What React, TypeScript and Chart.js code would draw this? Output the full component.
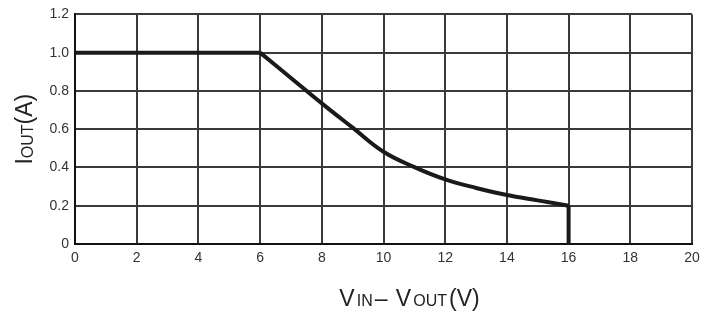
import React, { useEffect, useRef } from "react";
import { Chart, registerables } from "chart.js";

Chart.register(...registerables);

// Data
const flatX = [0, 6];
const flatY = [1.0, 1.0];
const curveX = [6, 7, 8, 9, 10, 11, 12, 13, 14, 15, 16];
const curveY = [1.0, 0.868, 0.735, 0.608, 0.482, 0.402, 0.338, 0.293, 0.256, 0.228, 0.2];
const dropX = [16, 16];
const dropY = [0.2, 0];

const xTicks = [0, 2, 4, 6, 8, 10, 12, 14, 16, 18, 20];
const yTicks = [0, 0.2, 0.4, 0.6, 0.8, 1.0, 1.2];
const yTickLabels = ["0", "0.2", "0.4", "0.6", "0.8", "1.0", "1.2"];

const FONT = '"Liberation Sans", Arial, sans-serif';

type Piece = { t: string; sub?: boolean };
const yTitle: Piece[] = [{ t: "I" }, { t: "OUT", sub: true }, { t: "(A)" }];
const xTitle: Piece[] = [
  { t: "V" },
  { t: "IN", sub: true },
  { t: "– " },
  { t: "V" },
  { t: "OUT", sub: true },
  { t: "(V)" },
];

const titlePlugin = {
  id: "subTitles",
  afterDraw(chart: any) {
    const ctx: CanvasRenderingContext2D = chart.ctx;
    const area = chart.chartArea;
    const mainF = `23px ${FONT}`;
    const subF = `16px ${FONT}`;
    const measure = (p: Piece[]) =>
      p.reduce((s, q) => {
        ctx.font = q.sub ? subF : mainF;
        return s + ctx.measureText(q.t).width;
      }, 0);
    ctx.save();
    ctx.fillStyle = "#222";
    ctx.textBaseline = "alphabetic";
    ctx.textAlign = "left";
    // x title
    const gap = 2;
    const wx = measure(xTitle) + gap * (xTitle.length - 1);
    let x = (area.left + area.right) / 2 + 26 - wx / 2;
    const by = area.bottom + 62;
    for (const q of xTitle) {
      ctx.font = q.sub ? subF : mainF;
      ctx.fillText(q.t, x, by);
      x += ctx.measureText(q.t).width + gap;
    }
    // y title (rotated)
    const wy = measure(yTitle);
    ctx.translate(area.left - 43, (area.top + area.bottom) / 2);
    ctx.rotate(-Math.PI / 2);
    let p = -wy / 2;
    for (const q of yTitle) {
      ctx.font = q.sub ? subF : mainF;
      ctx.fillText(q.t, p, q.sub ? 1 : 0);
      p += ctx.measureText(q.t).width;
    }
    ctx.restore();
  },
};

const lineStyle = {
  borderColor: "#1a1a1a",
  borderWidth: 4,
  pointRadius: 0,
  fill: false,
};

Chart.defaults.font.family = FONT;
Chart.defaults.font.size = 14;

export default function App() {
  const ref = useRef<HTMLCanvasElement | null>(null);
  useEffect(() => {
    document.body.style.margin = "0";
    const canvas = ref.current;
    if (!canvas) return;
    const chart = new Chart(canvas, {
      type: "line",
      data: {
        datasets: [
          { ...lineStyle, tension: 0, data: flatX.map((x, i) => ({ x, y: flatY[i] })) },
          {
            ...lineStyle,
            tension: 0.4,
            data: curveX.map((x, i) => ({ x, y: curveY[i] })),
          },
          { ...lineStyle, tension: 0, data: dropX.map((x, i) => ({ x, y: dropY[i] })) },
        ],
      },
      options: {
        responsive: false,
        animation: false,
        layout: { padding: { left: 0, top: 12, right: 23, bottom: 0 } },
        plugins: { legend: { display: false }, tooltip: { enabled: false } },
        scales: {
          x: {
            type: "linear",
            min: 0,
            max: 20,
            afterBuildTicks: (s: any) => {
              s.ticks = xTicks.map((v) => ({ value: v }));
            },
            afterFit: (s: any) => {
              s.height = 76;
            },
            grid: { color: "#3a3a3a", lineWidth: 2, drawTicks: false },
            border: { color: "#111", width: 2 },
            ticks: {
              padding: 6,
              color: "#333",
              font: { size: 14, family: FONT },
              maxRotation: 0,
              callback: (v: any) => String(v),
            },
          },
          y: {
            type: "linear",
            min: 0,
            max: 1.2,
            afterBuildTicks: (s: any) => {
              s.ticks = yTicks.map((v) => ({ value: v }));
            },
            afterFit: (s: any) => {
              s.width = 75;
            },
            grid: { color: "#3a3a3a", lineWidth: 2, drawTicks: false },
            border: { color: "#111", width: 2 },
            ticks: {
              padding: 6,
              color: "#333",
              font: { size: 14, family: FONT },
              callback: (_v: any, i: number) => yTickLabels[i],
            },
          },
        },
      },
      plugins: [titlePlugin],
    } as any);
    return () => chart.destroy();
  }, []);
  return (
    <div style={{ width: 715, height: 320, background: "#fff" }}>
      <canvas ref={ref} width={715} height={320} />
    </div>
  );
}
